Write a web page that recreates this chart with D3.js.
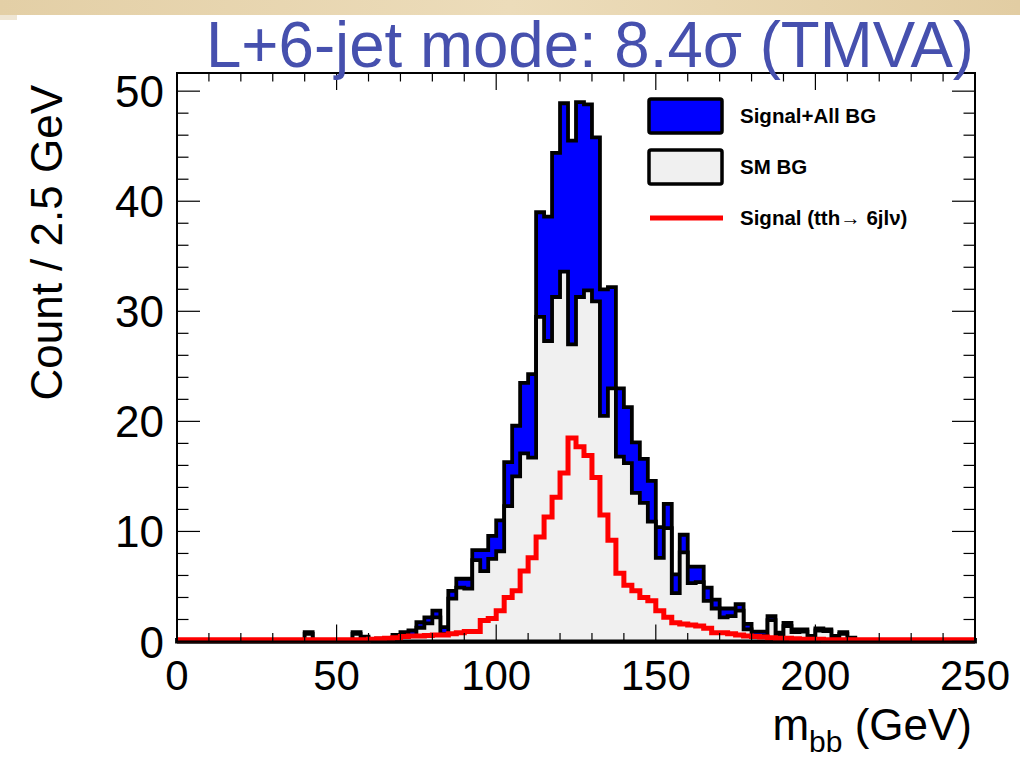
<!DOCTYPE html>
<html>
<head>
<meta charset="utf-8">
<script src="https://cdn.jsdelivr.net/npm/d3@7"></script>
<style>
  html, body { margin: 0; padding: 0; background: #ffffff; }
  svg { display: block; }
</style>
</head>
<body>
<svg id="chart" width="1020" height="770"></svg>
<script>
// ---------------- DATA ----------------
const titleText = "L+6-jet mode: 8.4\u03c3 (TMVA)";
const xRange = [0, 250];
const binWidth = 2.5;
const binStarts = d3.range(0, 250, binWidth);   // 100 bins of 2.5 GeV

// SM background (grey histogram), counts per 2.5 GeV bin
const smBG = [
  0,0,0,0,0,0,0,0,0,0,            // 0-22.5
  0,0,0,0,0,0,0.7,0,0,0,          // 25-47.5
  0,0,0.7,0.3,0,0,0,0.25,0.4,0.5, // 50-72.5
  1.25,1.65,2.2,0.7,3.9,4.9,4.8,7.4,6.4,7.5,   // 75-97.5
  8.2,12.3,15.0,17.1,16.7,29.5,27.3,31.3,33.6,27.0, // 100-122.5
  31.3,31.9,30.9,20.5,23.0,16.8,16.2,13.5,12.6,10.9, // 125-147.5
  7.6,10.3,4.4,8.1,5.3,5.4,3.7,3.0,2.2,2.3,    // 150-172.5
  2.8,1.1,0.45,0.5,1.95,0.5,1.4,0.85,0.9,0.3,  // 175-197.5
  1.0,0.95,0.35,0.7,0.2,0,0,0,0,0,             // 200-222.5
  0,0,0,0,0,0,0,0,0,0                          // 225-247.5
];

// Signal (tth -> 6jl nu), red line
const signal = [
  0.15,0.15,0.15,0.15,0.15,0.15,0.15,0.15,0.15,0.15,
  0.15,0.15,0.15,0.15,0.15,0.15,0.15,0.15,0.15,0.15,
  0.15,0.15,0.15,0.15,0.2,0.25,0.3,0.35,0.45,0.5,
  0.5,0.55,0.6,0.6,0.7,0.8,0.9,0.9,1.9,2.1,
  2.8,4.0,4.6,6.4,7.6,9.5,11.3,13.1,15.3,18.5,
  17.7,16.9,14.9,11.5,9.2,6.2,5.1,4.6,4.0,3.7,
  2.8,2.2,1.7,1.6,1.5,1.4,1.2,0.8,0.8,0.7,
  0.6,0.5,0.45,0.4,0.35,0.3,0.3,0.25,0.2,0.2,
  0.2,0.15,0.15,0.15,0.15,0.15,0.15,0.15,0.15,0.15,
  0.15,0.15,0.15,0.15,0.15,0.15,0.15,0.15,0.15,0.15
];

const xTicks = [0, 50, 100, 150, 200, 250];
const xMinorTicks = d3.range(0, 251, 10);
const yTicks = [0, 10, 20, 30, 40, 50];
const yMinorTicks = d3.range(0, 51.6, 2);

const legendItems = [
  { label: "Signal+All BG", kind: "box", fill: "#0000ff" },
  { label: "SM BG", kind: "box", fill: "#f0f0f0" },
  { label: "Signal (tth\u2192 6jl\u03bd)", kind: "line", color: "#ff0000" }
];

// ---------------- LAYOUT ----------------
const svg = d3.select("#chart");
const W = 1020, H = 770;
const plot = { left: 177, right: 975, top: 73, bottom: 641.5 };

// parchment band at the top
const grad = svg.append("defs").append("linearGradient")
  .attr("id", "parch").attr("x1", 0).attr("x2", 1).attr("y1", 0).attr("y2", 0);
grad.append("stop").attr("offset", "0%").attr("stop-color", "#e3cfa6");
grad.append("stop").attr("offset", "50%").attr("stop-color", "#ecdcba");
grad.append("stop").attr("offset", "100%").attr("stop-color", "#e2cda3");
svg.append("rect").attr("x", 0).attr("y", 0).attr("width", W).attr("height", 15)
  .attr("fill", "url(#parch)");
svg.append("rect").attr("x", 0).attr("y", 15).attr("width", 17).attr("height", 5)
  .attr("fill", "#efe6d4");

const x = d3.scaleLinear().domain(xRange).range([plot.left, plot.right]);
const y = d3.scaleLinear().domain([0, 51.65]).range([plot.bottom, plot.top]);

const total = smBG.map((v, i) => v + signal[i]);

function stepPoints(values) {
  const pts = [[binStarts[0], 0]];
  values.forEach((v, i) => {
    pts.push([binStarts[i], v]);
    pts.push([binStarts[i] + binWidth, v]);
  });
  pts.push([xRange[1], 0]);
  return pts;
}
const line = d3.line().x(d => x(d[0])).y(d => y(d[1]));

const g = svg.append("g");
// Signal + all BG (blue)
g.append("path").attr("d", line(stepPoints(total)) + "Z")
  .attr("fill", "#0000ff").attr("stroke", "#000").attr("stroke-width", 3.8)
  .attr("stroke-linejoin", "miter");
// SM BG (grey)
g.append("path").attr("d", line(stepPoints(smBG)) + "Z")
  .attr("fill", "#f0f0f0").attr("stroke", "#000").attr("stroke-width", 3.8)
  .attr("stroke-linejoin", "miter");
// Signal (red line)
const sigPts = [];
signal.forEach((v, i) => { sigPts.push([binStarts[i], v]); sigPts.push([binStarts[i] + binWidth, v]); });
g.append("path").attr("d", line(sigPts))
  .attr("fill", "none").attr("stroke", "#ff0000").attr("stroke-width", 5)
  .attr("stroke-linejoin", "miter");

// ---------------- FRAME & TICKS ----------------
const fr = svg.append("g");
fr.append("rect").attr("x", plot.left).attr("y", plot.top)
  .attr("width", plot.right - plot.left).attr("height", plot.bottom - plot.top)
  .attr("fill", "none").attr("stroke", "#000").attr("stroke-width", 2);

const xMaj = 17, xMin = 8.5, yMaj = 23, yMin = 11.5;
xMinorTicks.forEach(t => {
  const isMaj = xTicks.includes(t);
  const len = isMaj ? xMaj : xMin;
  fr.append("line").attr("x1", x(t)).attr("x2", x(t)).attr("y1", plot.bottom).attr("y2", plot.bottom - len)
    .attr("stroke", "#000").attr("stroke-width", 1.2);
  fr.append("line").attr("x1", x(t)).attr("x2", x(t)).attr("y1", plot.top).attr("y2", plot.top + len)
    .attr("stroke", "#000").attr("stroke-width", 1.2);
});
yMinorTicks.forEach(t => {
  const isMaj = yTicks.includes(t);
  const len = isMaj ? yMaj : yMin;
  fr.append("line").attr("y1", y(t)).attr("y2", y(t)).attr("x1", plot.left).attr("x2", plot.left + len)
    .attr("stroke", "#000").attr("stroke-width", 1.2);
  fr.append("line").attr("y1", y(t)).attr("y2", y(t)).attr("x1", plot.right).attr("x2", plot.right - len)
    .attr("stroke", "#000").attr("stroke-width", 1.2);
});

// tick labels
const font = "'Liberation Sans', Arial, Helvetica, sans-serif";
fr.selectAll(".xl").data(xTicks).enter().append("text")
  .attr("x", d => x(d)).attr("y", 690)
  .attr("text-anchor", "middle").attr("font-family", font).attr("font-size", 42)
  .attr("fill", "#000").text(d => d);
fr.selectAll(".yl").data(yTicks).enter().append("text")
  .attr("x", 164).attr("y", d => y(d) + 16)
  .attr("text-anchor", "end").attr("font-family", font).attr("font-size", 44)
  .attr("fill", "#000").text(d => d);

// axis titles
svg.append("text")
  .attr("transform", "translate(62,85) rotate(-90)")
  .attr("text-anchor", "end").attr("font-family", font).attr("font-size", 44)
  .attr("fill", "#000").text("Count / 2.5 GeV");

const xt = svg.append("text").attr("x", 972).attr("y", 740)
  .attr("text-anchor", "end").attr("font-family", font).attr("font-size", 44).attr("fill", "#000");
xt.append("tspan").text("m");
xt.append("tspan").attr("dy", 12).attr("font-size", 30).text("bb");
xt.append("tspan").attr("dy", -12).text(" (GeV)");

// title
svg.append("text").attr("x", 206).attr("y", 67)
  .attr("font-family", font).attr("font-size", 64)
  .attr("textLength", 768).attr("lengthAdjust", "spacingAndGlyphs")
  .attr("fill", "#4650ae").text(titleText);

// ---------------- LEGEND ----------------
const lg = svg.append("g");
const rowY = [116, 167, 218];
legendItems.forEach((it, i) => {
  const cy = rowY[i];
  if (it.kind === "box") {
    lg.append("rect").attr("x", 649).attr("y", cy - 17).attr("width", 73).attr("height", 34)
      .attr("rx", 2).attr("fill", it.fill).attr("stroke", "#000").attr("stroke-width", 3.5);
  } else {
    lg.append("line").attr("x1", 650).attr("x2", 723).attr("y1", cy).attr("y2", cy)
      .attr("stroke", it.color).attr("stroke-width", 5);
  }
  lg.append("text").attr("x", 740).attr("y", cy + 7)
    .attr("font-family", font).attr("font-weight", "bold").attr("font-size", 20.5)
    .attr("fill", "#000").text(it.label);
});
</script>
</body>
</html>
